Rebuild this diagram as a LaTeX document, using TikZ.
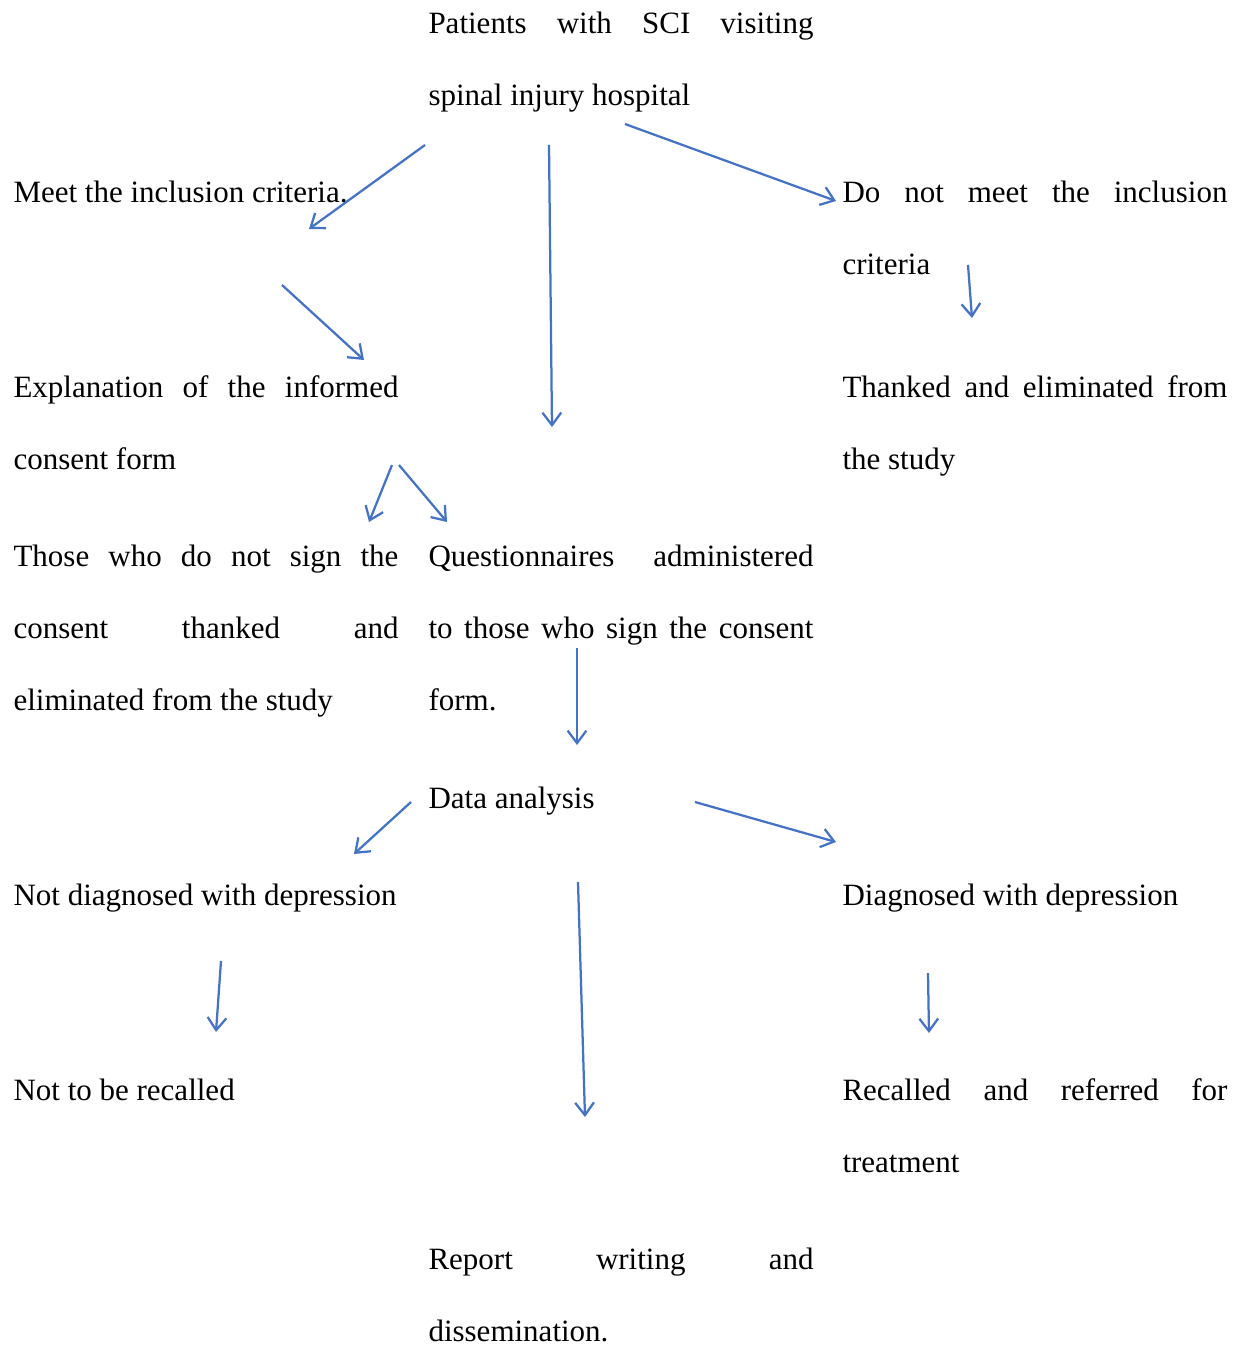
\documentclass[tikz,border=0pt]{standalone}
\usepackage{fontspec}
\setmainfont{Liberation Serif}
\definecolor{arrowblue}{RGB}{68,114,196}
\usetikzlibrary{arrows.meta}
\tikzstyle{stepText} = [
 anchor = base west,
 inner sep = 0pt,
 text width = 154pt,
 align = justify,
 font = \fontsize{12.4}{28.8}\selectfont
]
\tikzstyle{flowArrow} = [
 draw = arrowblue,
 line width = 0.9pt,
 -{Straight Barb[length=5pt,width=7.5pt]}
]

\begin{document}
\begin{tikzpicture}[x=0.4pt, y=-0.4pt]
  \useasboundingbox (0,0) rectangle (1241,1346);

  % text blocks
  \node [stepText] (patients) at (428,33) {Patients with SCI visiting\linebreak spinal injury hospital};
  \node [stepText] (meetCrit) at (13,202) {Meet the inclusion criteria.};
  \node [stepText] (notMeet) at (842,202) {Do not meet the inclusion\linebreak criteria};
  \node [stepText] (explain) at (13,397) {Explanation of the informed\linebreak consent form};
  \node [stepText] (thanked) at (842,397) {Thanked and eliminated from\linebreak the study};
  \node [stepText] (noSign) at (13,566) {Those who do not sign the\linebreak consent thanked and\linebreak eliminated from the study};
  \node [stepText] (questions) at (428,566) {Questionnaires administered\linebreak to those who sign the consent\linebreak form.};
  \node [stepText] (analysis) at (428,808) {Data analysis};
  \node [stepText] (notDiag) at (13,905) {Not diagnosed with depression};
  \node [stepText] (diag) at (842,905) {Diagnosed with depression};
  \node [stepText] (notRecall) at (13,1100) {Not to be recalled};
  \node [stepText] (recall) at (842,1100) {Recalled and referred for\linebreak treatment};
  \node [stepText] (report) at (428,1269) {Report writing and\linebreak dissemination.};

  % arrow ends
  \coordinate (patLeft) at (425,145);
  \coordinate (meetTip) at (309,229);
  \coordinate (patMid) at (549,145);
  \coordinate (midTip) at (552,427);
  \coordinate (patRight) at (625,124);
  \coordinate (notMeetTip) at (836,201);
  \coordinate (meetOut) at (282,285);
  \coordinate (explainTip) at (364,360);
  \coordinate (notMeetOut) at (968,265);
  \coordinate (thankedTip) at (972,318);
  \coordinate (explainOutA) at (392,465);
  \coordinate (noSignTip) at (369,522);
  \coordinate (explainOutB) at (399,465);
  \coordinate (questionsTip) at (447,522);
  \coordinate (questionsOut) at (577,648);
  \coordinate (analysisTip) at (577,745);
  \coordinate (analysisLeft) at (411,802);
  \coordinate (notDiagTip) at (354,854);
  \coordinate (analysisRight) at (695,802);
  \coordinate (diagTip) at (836,842);
  \coordinate (analysisMid) at (578,882);
  \coordinate (reportTip) at (585,1117);
  \coordinate (notDiagOut) at (221,961);
  \coordinate (notRecallTip) at (216,1032);
  \coordinate (diagOut) at (928,973);
  \coordinate (recallTip) at (929,1033);

  % connectors
  \draw [flowArrow] (patLeft) -- (meetTip);
  \draw [flowArrow] (patMid) -- (midTip);
  \draw [flowArrow] (patRight) -- (notMeetTip);
  \draw [flowArrow] (meetOut) -- (explainTip);
  \draw [flowArrow] (notMeetOut) -- (thankedTip);
  \draw [flowArrow] (explainOutA) -- (noSignTip);
  \draw [flowArrow] (explainOutB) -- (questionsTip);
  \draw [flowArrow] (questionsOut) -- (analysisTip);
  \draw [flowArrow] (analysisLeft) -- (notDiagTip);
  \draw [flowArrow] (analysisRight) -- (diagTip);
  \draw [flowArrow] (analysisMid) -- (reportTip);
  \draw [flowArrow] (notDiagOut) -- (notRecallTip);
  \draw [flowArrow] (diagOut) -- (recallTip);
\end{tikzpicture}
\end{document}
